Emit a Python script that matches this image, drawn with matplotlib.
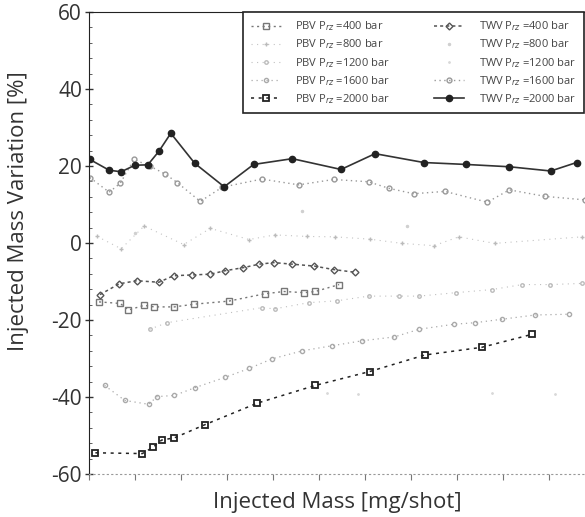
import matplotlib
matplotlib.use("Agg")
import matplotlib.pyplot as plt
from matplotlib.ticker import MultipleLocator, NullFormatter

plt.rcParams['font.family'] = ['Open Sans', 'DejaVu Sans']
plt.rcParams['axes.unicode_minus'] = False

# x in mg/shot (tick labels lost in the scan), y in %
twv2000_x = [0.1, 2.2, 3.5, 5.0, 6.4, 7.6, 8.9, 11.5, 14.7, 17.9, 22.1, 27.4, 31.1, 36.4, 41.0, 45.7, 50.2, 53.0]
twv2000_y = [21.7, 18.9, 18.5, 20.2, 20.3, 23.8, 28.5, 20.7, 14.6, 20.4, 21.9, 19.1, 23.2, 20.9, 20.4, 19.8, 18.7, 20.9]

twv1600_x = [0.1, 2.2, 3.4, 4.9, 6.6, 8.3, 9.6, 12.1, 14.5, 18.8, 22.8, 26.6, 30.4, 32.6, 35.3, 38.7, 43.3, 45.7, 49.6, 53.9]
twv1600_y = [17.0, 13.2, 15.5, 21.7, 20.0, 17.9, 15.7, 10.8, 14.5, 16.6, 15.1, 16.5, 15.9, 14.2, 12.8, 13.4, 10.6, 13.8, 12.1, 11.2]

twv1200_x = [25.9, 29.3, 43.8, 50.7]
twv1200_y = [-39.0, -39.2, -39.0, -39.2]

twv800_x = [5.0, 23.2, 34.6]
twv800_y = [2.6, 8.2, 4.5]

twv400_x = [1.2, 3.3, 5.2, 7.6, 9.2, 11.2, 13.2, 14.8, 16.8, 18.5, 20.1, 22.1, 24.5, 26.6, 28.9]
twv400_y = [-13.4, -10.6, -9.8, -10.2, -8.5, -8.3, -8.1, -7.2, -6.4, -5.5, -5.1, -5.5, -6.0, -6.9, -7.6]

pbv2000_x = [0.7, 5.8, 7.0, 7.9, 9.3, 12.6, 18.3, 24.6, 30.5, 36.5, 42.7, 48.2]
pbv2000_y = [-54.5, -54.7, -53.0, -51.2, -50.6, -47.2, -41.6, -37.0, -33.4, -29.1, -27.1, -23.7]

pbv1600_x = [1.7, 3.9, 6.5, 7.4, 9.3, 11.5, 14.8, 17.4, 19.9, 23.2, 26.4, 29.7, 33.2, 35.9, 39.7, 42.0, 44.9, 48.5, 52.2]
pbv1600_y = [-37.0, -40.9, -41.9, -39.9, -39.6, -37.6, -34.9, -32.6, -30.1, -28.0, -26.7, -25.4, -24.4, -22.4, -21.1, -20.7, -19.8, -18.7, -18.5]

pbv1200_x = [6.6, 8.5, 18.8, 20.2, 23.9, 27.0, 30.4, 33.7, 35.9, 39.9, 43.8, 47.1, 50.1, 53.6]
pbv1200_y = [-22.4, -20.7, -16.8, -17.1, -15.5, -15.0, -13.8, -13.8, -13.8, -12.9, -12.1, -10.8, -10.8, -10.5]

pbv800_x = [0.9, 3.5, 6.0, 10.3, 13.2, 17.4, 20.2, 23.7, 26.7, 30.5, 34.0, 37.5, 40.2, 44.1, 53.6]
pbv800_y = [1.7, -1.5, 4.4, -0.4, 3.8, 0.9, 2.1, 1.7, 1.6, 1.0, -0.1, -0.7, 1.6, -0.1, 1.6]

pbv400_x = [1.1, 3.4, 4.3, 6.0, 7.1, 9.3, 11.4, 15.2, 19.1, 21.2, 23.4, 24.6, 27.2]
pbv400_y = [-15.3, -15.7, -17.4, -16.2, -16.6, -16.6, -15.9, -15.1, -13.2, -12.6, -12.9, -12.6, -10.8]


def lbl(inj, p):
    return inj + " P$_{rz}$ =" + str(p) + " bar"


fig = plt.figure(figsize=(5.85, 5.17), dpi=100)
ax = fig.add_axes([0.152, 0.0832, 0.865, 0.8936])

# PBV series
ax.plot(pbv400_x, pbv400_y, ls=(0, (1.5, 2.5)), lw=1, color='#777777', marker='s', ms=4,
        mfc='none', mec='#777777', label=lbl("PBV", 400))
ax.plot(pbv800_x, pbv800_y, ls=(0, (1, 4)), lw=0.8, color='#c4c4c4', marker='+', ms=3,
        mec='#bbbbbb', label=lbl("PBV", 800))
ax.plot(pbv1200_x, pbv1200_y, ls=(0, (1, 4)), lw=0.8, color='#c0c0c0', marker='o', ms=2.5,
        mfc='none', mec='#bbbbbb', label=lbl("PBV", 1200))
ax.plot(pbv1600_x, pbv1600_y, ls=(0, (1, 3)), lw=0.9, color='#aaaaaa', marker='o', ms=3,
        mfc='none', mec='#aaaaaa', label=lbl("PBV", 1600))
ax.plot(pbv2000_x, pbv2000_y, ls=(0, (2, 3)), lw=1.1, color='#222222', marker='s', ms=5,
        mfc='none', mec='#222222', mew=1.3, label=lbl("PBV", 2000))
# TWV series
ax.plot(twv400_x, twv400_y, ls=(0, (2, 2)), lw=1.1, color='#555555', marker='D', ms=3.5,
        mfc='none', mec='#555555', label=lbl("TWV", 400))
ax.plot(twv800_x, twv800_y, ls='none', color='#d0d0d0', marker='.', ms=3,
        label=lbl("TWV", 800))
ax.plot(twv1200_x, twv1200_y, ls='none', color='#d8d8d8', marker='.', ms=2,
        label=lbl("TWV", 1200))
ax.plot(twv1600_x, twv1600_y, ls=(0, (1, 2.5)), lw=1, color='#999999', marker='o', ms=3.5,
        mfc='none', mec='#999999', label=lbl("TWV", 1600))
ax.plot(twv2000_x, twv2000_y, ls='-', lw=1.2, color='#333333', marker='o', ms=4.5,
        mfc='#222222', mec='#222222', label=lbl("TWV", 2000))

ax.set_xlim(0, 55)
ax.set_ylim(-60, 60)
ax.xaxis.set_major_locator(MultipleLocator(5))
ax.xaxis.set_major_formatter(NullFormatter())
ax.yaxis.set_major_locator(MultipleLocator(20))
ax.yaxis.set_minor_locator(MultipleLocator(4))

ax.spines['right'].set_visible(False)
ax.spines['top'].set_color('#222222')
ax.spines['left'].set_color('#222222')
ax.spines['bottom'].set_color('#999999')
ax.spines['bottom'].set_linestyle((0, (1, 3)))
ax.tick_params(axis='y', which='major', direction='inout', length=6, width=1, labelsize=15,
               colors='#333333', pad=2)
ax.tick_params(axis='y', which='minor', direction='in', length=2.5, color='#444444')
ax.tick_params(axis='x', which='major', direction='out', length=4, color='#777777')

ax.set_xlabel("Injected Mass [mg/shot]", fontsize=16, color='#333333')
ax.xaxis.set_label_coords(0.49, -0.04)
ax.set_ylabel("Injected Mass Variation [%]", fontsize=16, color='#333333')
ax.yaxis.set_label_coords(-0.118, 0.57)

leg = ax.legend(ncol=2, loc='upper left', bbox_to_anchor=(0.415, 0.977),
                bbox_transform=fig.transFigure, fontsize=8, frameon=True, fancybox=False,
                edgecolor='#222222', framealpha=1, borderaxespad=0, handlelength=2.7,
                handletextpad=1.3, columnspacing=4.0, labelspacing=0.38, borderpad=0.7)
leg.get_frame().set_linewidth(1.2)
for t in leg.get_texts():
    t.set_color('#444444')

fig.savefig("out.png", dpi=100)
